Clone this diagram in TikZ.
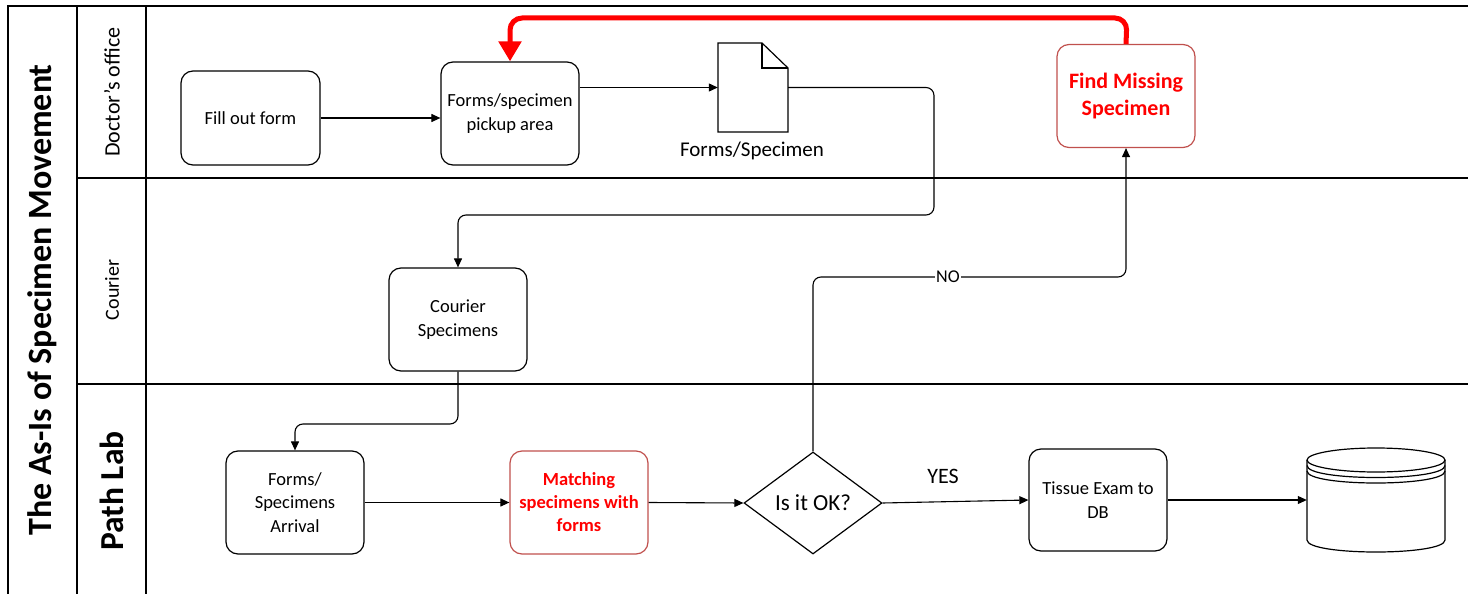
\documentclass[tikz,border=0pt]{standalone}
\usepackage{fontspec}
\setmainfont{Carlito}
\usetikzlibrary{arrows.meta,shapes.geometric}
\definecolor{redborder}{HTML}{C0504D}
\definecolor{redtext}{HTML}{FF0000}
\begin{document}
\begin{tikzpicture}[x=1pt,y=-1pt,
  box/.style={draw, line width=1.2pt, rounded corners=12pt, minimum width=138pt, minimum height=103pt, align=center, inner sep=2pt, font=\fontsize{18.5}{23.5}\selectfont},
  redbox/.style={box, draw=redborder, text=redtext},
  conn/.style={draw, line width=1.1pt, rounded corners=8pt, -{Triangle[length=9pt,width=8pt]}},
  lane/.style={line width=2pt},
  lanelabel/.style={rotate=90, font=\fontsize{21}{25}\selectfont},
  dbline/.style={line width=1.2pt}]
\useasboundingbox (0,0) rectangle (1468,594);

% swimlane frame
\draw[lane] (8,594) -- (8,6) -- (1468,6);
\draw[lane] (77,6) -- (77,594);
\draw[lane] (146,6) -- (146,594);
\draw[lane] (77,178) -- (1468,178);
\draw[lane] (77,384) -- (1468,384);

\node[rotate=90, font=\bfseries\fontsize{34}{40}\selectfont] (title) at (42,300) {The As-Is of Specimen Movement};
\node[rotate=90, font=\bfseries\fontsize{33.5}{40}\selectfont] (pathlab) at (112,491) {Path Lab};
\node[lanelabel, font=\fontsize{22}{26}\selectfont] (doclane) at (112,92) {Doctor’s office};
\node[lanelabel, font=\fontsize{20}{24}\selectfont] (courlane) at (112,290) {Courier};

% nodes
\node[box, minimum width=139pt, minimum height=94pt] (fill) at (250.5,118) {Fill out form};
\node[box] (pick) at (510,113.5) {Forms/specimen\\pickup area};
\node[minimum width=70pt, minimum height=89pt, inner sep=0pt] (doc) at (753,87.5) {};
\draw[line width=1.2pt] (718,43) -- (762,43) -- (788,68) -- (788,132) -- (718,132) -- cycle;
\draw[line width=1.6pt] (762,43) -- (762,68) -- (788,68);
\node[font=\fontsize{21}{25}\selectfont] (doclabel) at (752,151) {Forms/Specimen};

\node[redbox, font=\bfseries\fontsize{22}{26.5}\selectfont] (find) at (1126,96) {Find Missing\\Specimen};
\node[box] (courier) at (458,319.5) {Courier\\Specimens};
\node[box] (arrival) at (295,502.5) {Forms/\\Specimens\\Arrival};
\node[redbox, font=\bfseries\fontsize{18.5}{23}\selectfont] (match) at (579,502.5) {Matching\\specimens with\\forms};
\node[diamond, draw, line width=1.2pt, minimum width=138pt, minimum height=102pt, inner sep=0pt, font=\fontsize{23}{27}\selectfont] (ok) at (813,503) {Is it OK?};
\node[box, minimum height=102pt] (tissue) at (1098,500) {Tissue Exam to\\DB};

% database
\node[minimum width=138pt, minimum height=104pt, inner sep=0pt] (db) at (1376,500) {};
\draw[dbline] (1307,460) -- (1307,540) .. controls (1307,556) and (1445,556) .. (1445,540) -- (1445,460);
\draw[dbline, fill=white] (1376,460) ellipse [x radius=69, y radius=12];
\draw[dbline] (1307,465.5) .. controls (1307,481.5) and (1445,481.5) .. (1445,465.5);
\draw[dbline] (1307,471) .. controls (1307,487) and (1445,487) .. (1445,471);

% connectors
\draw[conn] (fill.east) -- (fill.east -| pick.west);
\draw[conn] (doc.west -| pick.east) -- (doc.west);
\draw[conn] (doc.east) -- (934,87.5) -- (934,215) -- (458,215) -- (courier.north);
\draw[conn] (courier.south) -- (458,424) -- (295,424) -- (arrival.north);
\draw[conn] (arrival.east) -- (match.west);
\draw[conn] (match.east) -- (ok.west);
\draw[conn] (ok.east) -- (tissue.west);
\node[font=\fontsize{22}{26}\selectfont] (yes) at (943,476) {YES};
\draw[conn] (tissue.east) -- (db.west);
\draw[conn] (ok.north) -- (813,277) -- (find.south |- 0,277) -- (find.south);
\node[fill=white, inner sep=1pt, font=\fontsize{18}{22}\selectfont] (no) at (948,277) {NO};
\draw[draw=redtext, line width=5pt, rounded corners=12pt, -{Triangle[length=20pt,width=22pt]}] (find.north) -- (1127,18) -- (pick.north |- 0,18) -- (pick.north);
\end{tikzpicture}
\end{document}
